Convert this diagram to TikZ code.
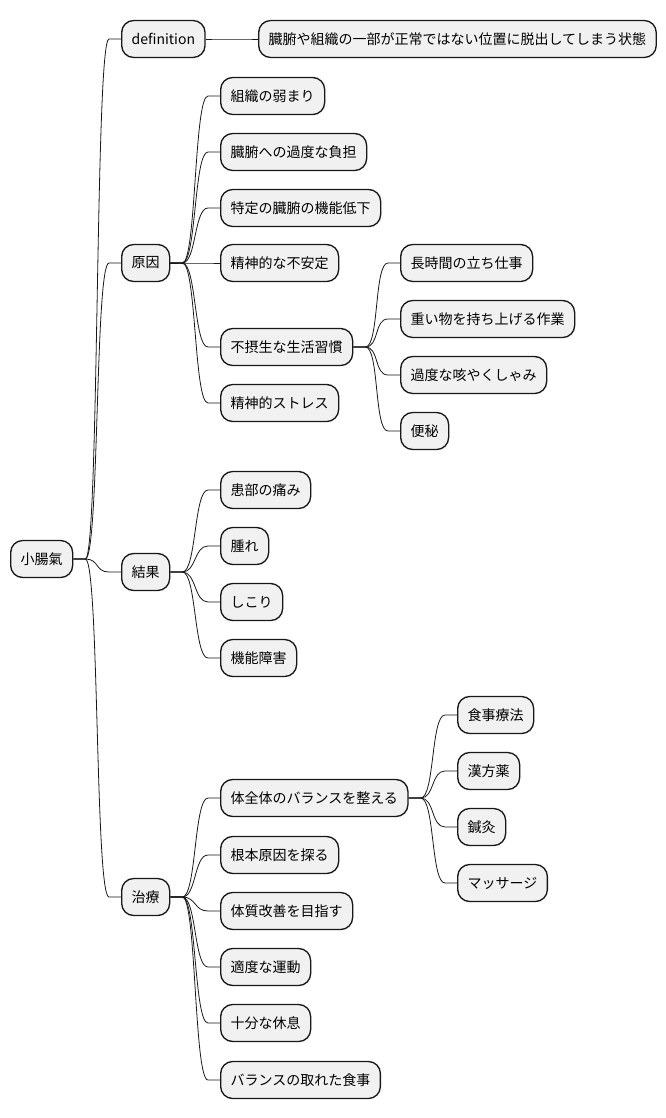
\documentclass[tikz,border=0pt]{standalone}
\usepackage{fontspec}
\setmainfont{Noto Sans CJK JP}
\usepackage{tikz}
\usetikzlibrary{calc}
\definecolor{MapFill}{HTML}{F1F1F1}
\definecolor{MapInk}{HTML}{181818}
\begin{document}
\begin{tikzpicture}[x=0.75pt, y=-0.75pt,
  mnode/.style={fill=MapFill, draw=MapInk, line width=1pt, rounded corners=9pt,
                minimum height=27.75pt, inner xsep=7.5pt, inner ysep=0pt, anchor=west,
                font=\fontsize{10.5}{12}\selectfont, text=black},
  branch/.style={draw=MapInk, line width=0.6pt}]
  \useasboundingbox (0,0) rectangle (666,1118);
  \foreach \nm/\lbl/\x/\y in {%
      root/小腸氣/10/559,
      def/definition/121/39,
      defTxt/臓腑や組織の一部が正常ではない位置に脱出してしまう状態/258/39,
      cause/原因/121/263,
      c1/組織の弱まり/220/96,
      c2/臓腑への過度な負担/220/152,
      c3/特定の臓腑の機能低下/220/208,
      c4/精神的な不安定/220/263,
      c5/不摂生な生活習慣/220/347,
      c6/精神的ストレス/220/403,
      h1/長時間の立ち仕事/400/263,
      h2/重い物を持ち上げる作業/400/319,
      h3/過度な咳やくしゃみ/400/375,
      h4/便秘/400/431,
      res/結果/121/572,
      r1/患部の痛み/220/490,
      r2/腫れ/220/546,
      r3/しこり/220/602,
      r4/機能障害/220/658,
      cure/治療/121/897,
      t1/体全体のバランスを整える/220/798,
      t2/根本原因を探る/220/855,
      t3/体質改善を目指す/220/911,
      t4/適度な運動/220/967,
      t5/十分な休息/220/1023,
      t6/バランスの取れた食事/220/1080,
      b1/食事療法/457/715,
      b2/漢方薬/457/771,
      b3/鍼灸/457/827,
      b4/マッサージ/457/883}{
    \node[mnode] (\nm) at (\x,\y) {\lbl};
  }
  % branches, parent -> child
  \foreach \a/\b in {root/def, def/defTxt, root/cause, root/res, root/cure,
      cause/c1, cause/c2, cause/c3, cause/c4, cause/c5, cause/c6,
      c5/h1, c5/h2, c5/h3, c5/h4,
      res/r1, res/r2, res/r3, res/r4,
      cure/t1, cure/t2, cure/t3, cure/t4, cure/t5, cure/t6,
      t1/b1, t1/b2, t1/b3, t1/b4}{
    \draw[branch] (\a.east) -- ++(12,0) .. controls +(14,0) and +(-14,0)
      .. ($(\b.west)+(-12,0)$) -- (\b.west);
  }
\end{tikzpicture}
\end{document}
